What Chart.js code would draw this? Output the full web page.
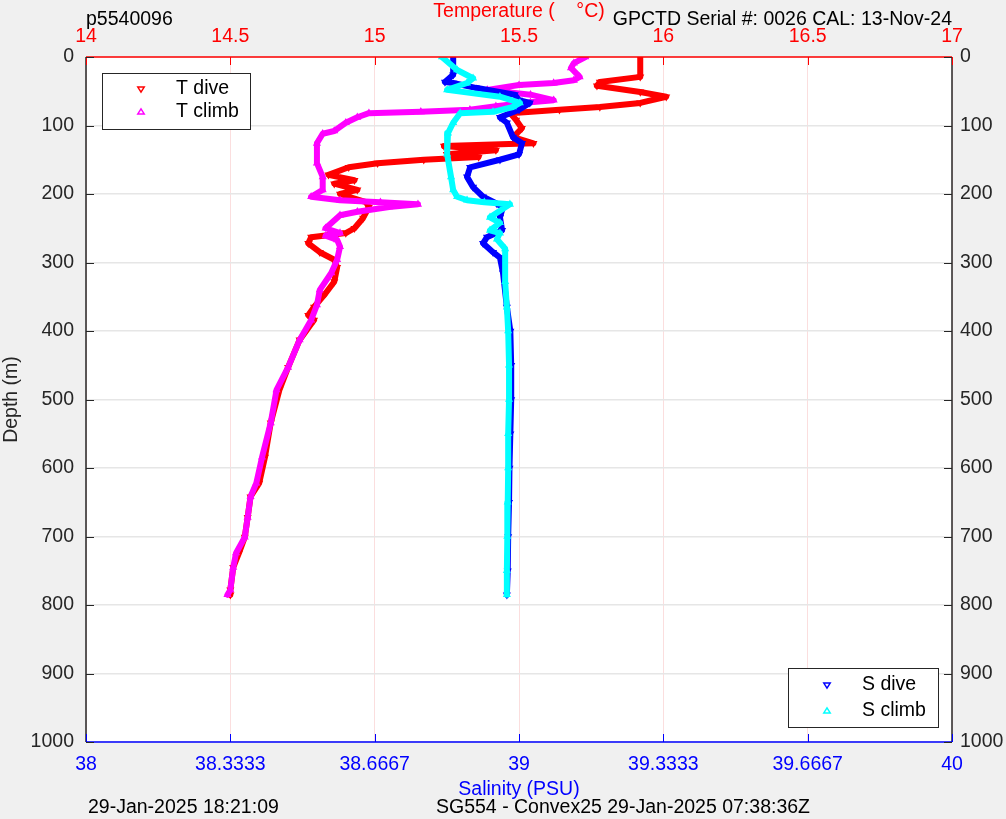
<!DOCTYPE html>
<html>
<head>
<meta charset="utf-8">
<script src="https://cdn.jsdelivr.net/npm/chart.js@4.4.1/dist/chart.umd.min.js"></script>
<style>
  html, body { margin: 0; padding: 0; background: #f0f0f0; }
  #c { display: block; }
</style>
</head>
<body>
<canvas id="c" width="1006" height="819"></canvas>
<script>
// ---- Data (depth in m, temperature in °C, salinity in PSU) ----
const tDiveDepth = [0, 29, 36.5, 42, 51, 58, 67, 73, 77, 82, 92, 104, 117, 126, 130, 136, 142, 146, 150, 155, 161, 172, 180, 185, 194, 200, 212, 219, 235, 250, 257, 263, 272, 285, 296, 307, 328, 345, 365, 377, 384, 413, 453, 486, 534, 584, 622, 642, 672, 701, 724, 745, 778, 785];
const tDiveTemp  = [15.92, 15.92, 15.78, 15.77, 15.92, 16.01, 15.92, 15.78, 15.64, 15.47, 15.49, 15.51, 15.48, 15.55, 15.24, 15.42, 15.25, 15.36, 15.17, 15.01, 14.91, 14.84, 14.93, 14.86, 14.94, 14.88, 14.97, 14.98, 14.96, 14.93, 14.90, 14.78, 14.77, 14.81, 14.86, 14.87, 14.86, 14.83, 14.79, 14.77, 14.79, 14.74, 14.70, 14.67, 14.64, 14.62, 14.60, 14.57, 14.56, 14.55, 14.53, 14.51, 14.50, 14.50];

const tClimbDepth = [0, 9, 16, 29, 34, 38, 41, 48, 55, 63, 66, 72, 77, 80, 82, 88, 96, 108, 112, 126, 155, 175, 194, 204, 209, 212, 215, 219, 226, 231, 250, 257, 261, 267, 277, 296, 315, 340, 362, 384, 413, 453, 486, 534, 584, 622, 642, 672, 701, 724, 745, 778, 785];
const tClimbTemp  = [15.73, 15.69, 15.68, 15.71, 15.69, 15.62, 15.50, 15.39, 15.54, 15.62, 15.54, 15.42, 15.33, 15.16, 14.98, 14.94, 14.90, 14.86, 14.82, 14.80, 14.80, 14.82, 14.82, 14.78, 14.88, 15.02, 15.15, 15.05, 14.94, 14.88, 14.83, 14.88, 14.83, 14.87, 14.88, 14.87, 14.85, 14.81, 14.80, 14.78, 14.74, 14.70, 14.66, 14.64, 14.61, 14.59, 14.57, 14.56, 14.55, 14.52, 14.51, 14.50, 14.49];

const sDiveDepth = [0, 26, 36.5, 38, 45, 55, 63, 67, 77, 88, 96, 117, 126, 142, 150, 161, 175, 190, 204, 214, 219, 234, 253, 263, 272, 285, 293, 315, 365, 400, 450, 500, 550, 600, 650, 700, 750, 785];
const sDiveSal   = [38.848, 38.848, 38.829, 38.848, 38.900, 38.990, 39.000, 39.025, 39.000, 38.956, 38.972, 38.986, 39.007, 39.000, 38.956, 38.887, 38.880, 38.894, 38.917, 38.949, 38.963, 38.956, 38.961, 38.926, 38.917, 38.940, 38.956, 38.963, 38.972, 38.980, 38.982, 38.982, 38.980, 38.978, 38.977, 38.975, 38.974, 38.972];

const sClimbDepth = [0, 19, 31, 38, 48, 58, 67, 73, 80, 82, 96, 111, 142, 175, 194, 204, 209, 212, 215, 234, 242, 253, 257, 266, 280, 328, 365, 400, 450, 500, 550, 600, 650, 700, 750, 785];
const sClimbSal   = [38.822, 38.857, 38.894, 38.880, 38.834, 38.956, 39.002, 38.986, 38.940, 38.864, 38.848, 38.836, 38.834, 38.843, 38.848, 38.857, 38.880, 38.920, 38.979, 38.933, 38.956, 38.933, 38.956, 38.949, 38.968, 38.968, 38.972, 38.975, 38.977, 38.977, 38.975, 38.975, 38.974, 38.973, 38.972, 38.972];

// ---- Axis ticks ----
const tempTicks = [14, 14.5, 15, 15.5, 16, 16.5, 17];
const salTicks = [38, 38 + 1/3, 38 + 2/3, 39, 39 + 1/3, 39 + 2/3, 40];
const salTickLabels = ['38', '38.3333', '38.6667', '39', '39.3333', '39.6667', '40'];
const depthTicks = [0, 100, 200, 300, 400, 500, 600, 700, 800, 900, 1000];

const FONT = 'Liberation Sans, Arial, Helvetica, sans-serif';
const FS = 19.5;

function pts(xs, ys) { return xs.map((v, i) => ({ x: v, y: ys[i] })); }

const bgPlugin = {
  id: 'bg',
  beforeDraw(chart) {
    const { ctx, chartArea: a } = chart;
    ctx.save();
    ctx.fillStyle = '#f0f0f0';
    ctx.fillRect(0, 0, chart.width, chart.height);
    ctx.fillStyle = '#ffffff';
    ctx.fillRect(a.left, a.top, a.right - a.left, a.bottom - a.top);
    ctx.restore();
  }
};

function tri(ctx, x, y, r, down, color) {
  ctx.beginPath();
  if (down) {
    ctx.moveTo(x - r, y - r * 0.6); ctx.lineTo(x + r, y - r * 0.6); ctx.lineTo(x, y + r);
  } else {
    ctx.moveTo(x - r, y + r * 0.6); ctx.lineTo(x + r, y + r * 0.6); ctx.lineTo(x, y - r);
  }
  ctx.closePath();
  ctx.strokeStyle = color; ctx.lineWidth = 1.5; ctx.stroke();
}

const decoPlugin = {
  id: 'deco',
  afterDraw(chart) {
    const { ctx, chartArea: a, scales } = chart;
    ctx.save();
    ctx.lineWidth = 1.5;
    ctx.strokeStyle = '#262626';
    ctx.beginPath(); ctx.moveTo(a.left, a.top); ctx.lineTo(a.left, a.bottom); ctx.stroke();
    ctx.beginPath(); ctx.moveTo(a.right, a.top); ctx.lineTo(a.right, a.bottom); ctx.stroke();
    ctx.strokeStyle = '#ff0000';
    ctx.beginPath(); ctx.moveTo(a.left, a.top); ctx.lineTo(a.right, a.top); ctx.stroke();
    ctx.strokeStyle = '#0000ff';
    ctx.beginPath(); ctx.moveTo(a.left, a.bottom); ctx.lineTo(a.right, a.bottom); ctx.stroke();
    const L = 8;
    ctx.lineWidth = 1;
    ctx.strokeStyle = '#ff0000';
    tempTicks.forEach(v => { const x = Math.round(scales.xT.getPixelForValue(v)) + 0.5; ctx.beginPath(); ctx.moveTo(x, a.top); ctx.lineTo(x, a.top + L); ctx.stroke(); });
    ctx.strokeStyle = '#0000ff';
    salTicks.forEach(v => { const x = Math.round(scales.xS.getPixelForValue(v)) + 0.5; ctx.beginPath(); ctx.moveTo(x, a.bottom); ctx.lineTo(x, a.bottom - L); ctx.stroke(); });
    ctx.strokeStyle = '#262626';
    depthTicks.forEach(v => { const y = Math.round(scales.y.getPixelForValue(v)) + 0.5;
      ctx.beginPath(); ctx.moveTo(a.left, y); ctx.lineTo(a.left + L, y); ctx.stroke();
      ctx.beginPath(); ctx.moveTo(a.right, y); ctx.lineTo(a.right - L, y); ctx.stroke(); });

    const legend = (x0, y0, w, h, items) => {
      ctx.fillStyle = '#ffffff'; ctx.fillRect(x0, y0, w, h);
      ctx.strokeStyle = '#262626'; ctx.lineWidth = 1; ctx.strokeRect(x0 + 0.5, y0 + 0.5, w, h);
      ctx.font = FS + 'px ' + FONT; ctx.textBaseline = 'middle'; ctx.textAlign = 'left';
      items.forEach(it => { tri(ctx, it.mx, it.y, 3.2, it.down, it.color); ctx.fillStyle = '#000'; ctx.fillText(it.label, it.tx, it.y); });
    };
    legend(102, 73, 148, 56, [
      { mx: 141, tx: 176, y: 89, down: true, color: '#ff0000', label: 'T dive' },
      { mx: 141, tx: 176, y: 112, down: false, color: '#ff00ff', label: 'T climb' }
    ]);
    legend(788, 668, 150, 59, [
      { mx: 827, tx: 862, y: 685, down: true, color: '#0000ff', label: 'S dive' },
      { mx: 827, tx: 862, y: 711, down: false, color: '#00ffff', label: 'S climb' }
    ]);

    ctx.font = FS + 'px ' + FONT; ctx.textBaseline = 'middle';
    ctx.fillStyle = '#000';
    ctx.textAlign = 'left'; ctx.fillText('p5540096', 86, 20);
    ctx.textAlign = 'right'; ctx.fillText('GPCTD Serial #: 0026 CAL: 13-Nov-24', 952, 20);
    ctx.textAlign = 'left'; ctx.fillText('29-Jan-2025 18:21:09', 88, 808);
    ctx.textAlign = 'left'; ctx.fillText('SG554 - Convex25 29-Jan-2025 07:38:36Z', 436, 808);
    ctx.restore();
  }
};

const ds = (label, xs, ys, axis, color, down) => ({
  label, data: pts(xs, ys), xAxisID: axis, yAxisID: 'y',
  showLine: true, borderColor: color, backgroundColor: 'rgba(0,0,0,0)', borderWidth: 6,
  borderJoinStyle: 'round', borderCapStyle: 'round',
  pointStyle: 'triangle', rotation: down ? 180 : 0, pointRadius: 3.5, pointBorderWidth: 1.2,
  pointBorderColor: color, pointBackgroundColor: 'rgba(0,0,0,0)', tension: 0
});

new Chart(document.getElementById('c'), {
  type: 'scatter',
  data: {
    // first dataset is drawn on top
    datasets: [
      ds('S climb', sClimbSal, sClimbDepth, 'xS', '#00ffff', false),
      ds('S dive', sDiveSal, sDiveDepth, 'xS', '#0000ff', true),
      ds('T climb', tClimbTemp, tClimbDepth, 'xT', '#ff00ff', false),
      ds('T dive', tDiveTemp, tDiveDepth, 'xT', '#ff0000', true)
    ]
  },
  options: {
    responsive: false, animation: false, devicePixelRatio: 1,
    layout: { padding: 0 },
    plugins: { legend: { display: false }, tooltip: { enabled: false } },
    scales: {
      xT: {
        type: 'linear', position: 'top', min: 14, max: 17,
        afterBuildTicks: s => { s.ticks = tempTicks.map(v => ({ value: v })); },
        afterFit: s => { s.height = 57; },
        grid: { color: '#fbdede', drawTicks: false, lineWidth: 1 },
        border: { display: false },
        ticks: { color: '#ff0000', padding: 9, font: { family: FONT, size: FS }, maxRotation: 0,
                 callback: v => String(v) },
        title: { display: true, text: 'Temperature (    °C)', color: '#ff0000', font: { family: FONT, size: FS }, padding: { top: 0, bottom: 0 } }
      },
      xS: {
        type: 'linear', position: 'bottom', min: 38, max: 40,
        afterBuildTicks: s => { s.ticks = salTicks.map(v => ({ value: v })); },
        afterFit: s => { s.height = 77; },
        grid: { display: false, drawTicks: false },
        border: { display: false },
        ticks: { color: '#0000ff', padding: 11, font: { family: FONT, size: FS }, maxRotation: 0,
                 callback: (v, i) => salTickLabels[i] },
        title: { display: true, text: 'Salinity (PSU)', color: '#0000ff', font: { family: FONT, size: FS }, padding: { top: 0, bottom: 18 } }
      },
      y: {
        type: 'linear', position: 'left', min: 0, max: 1000, reverse: true,
        afterBuildTicks: s => { s.ticks = depthTicks.map(v => ({ value: v })); },
        afterFit: s => { s.width = 86; },
        grid: { color: '#e6e6e6', drawTicks: false, lineWidth: 1.5 },
        border: { display: false },
        ticks: { color: '#262626', padding: 12, font: { family: FONT, size: FS }, callback: v => String(v) },
        title: { display: true, text: 'Depth (m)', color: '#262626', font: { family: FONT, size: FS }, padding: { top: 0, bottom: 0 } }
      },
      y2: {
        type: 'linear', position: 'right', min: 0, max: 1000, reverse: true,
        afterBuildTicks: s => { s.ticks = depthTicks.map(v => ({ value: v })); },
        afterFit: s => { s.width = 54; },
        grid: { display: false, drawTicks: false },
        border: { display: false },
        ticks: { color: '#262626', padding: 8, font: { family: FONT, size: FS }, callback: v => String(v) }
      }
    }
  },
  plugins: [bgPlugin, decoPlugin]
});
</script>
</body>
</html>
